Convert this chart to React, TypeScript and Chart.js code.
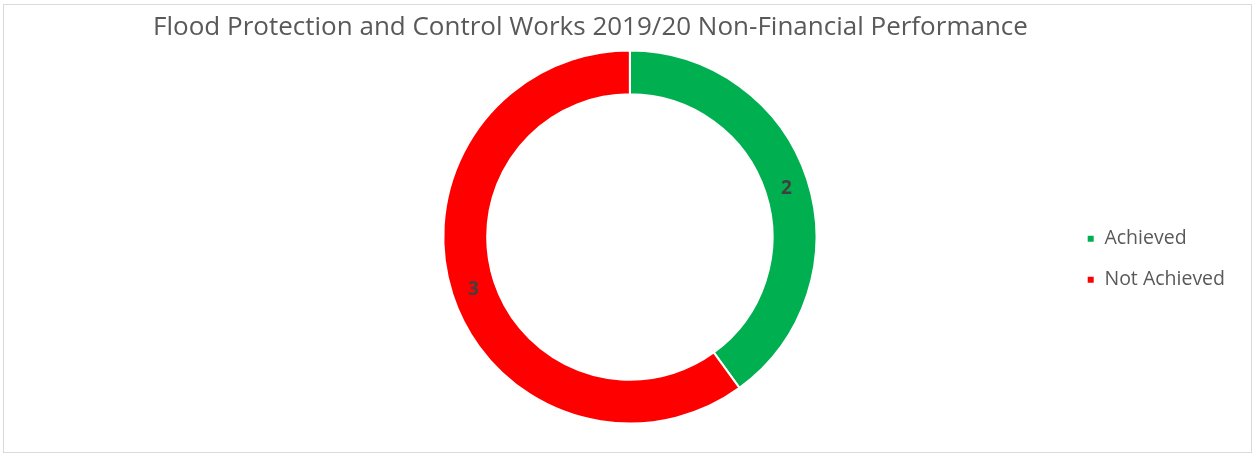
import React, { useEffect, useRef } from 'react';
import { Chart, registerables } from 'chart.js';

Chart.register(...registerables);

const TITLE = 'Flood Protection and Control Works 2019/20 Non-Financial Performance';
const categories = ['Achieved', 'Not Achieved'];
const counts = [2, 3];
const sliceColors = ['#00B050', '#FF0000'];

const FONT = '"Open Sans", "Noto Sans", sans-serif';

const sliceLabels = {
  id: 'sliceLabels',
  afterDatasetsDraw(chart: any) {
    const ctx = chart.ctx;
    const meta = chart.getDatasetMeta(0);
    const values = chart.data.datasets[0].data;
    ctx.save();
    ctx.font = `bold 19px ${FONT}`;
    ctx.fillStyle = '#404040';
    ctx.textAlign = 'center';
    ctx.textBaseline = 'middle';
    meta.data.forEach((arc: any, i: number) => {
      const p = arc.tooltipPosition();
      ctx.fillText(String(values[i]), p.x, p.y + 2);
    });
    ctx.restore();
  },
};

const titleShift = {
  id: 'titleShift',
  afterLayout(chart: any) {
    const t = chart.titleBlock;
    if (!t) return;
    const w = t.right - t.left;
    const cx = 590.5;
    t.left = cx - w / 2;
    t.right = cx + w / 2;
  },
};

export default function App() {
  const ref = useRef<HTMLCanvasElement | null>(null);

  useEffect(() => {
    if (!ref.current) return;
    const chart = new Chart(ref.current, {
      type: 'doughnut',
      data: {
        labels: categories,
        datasets: [
          {
            data: counts,
            backgroundColor: sliceColors,
            borderColor: '#ffffff',
            borderWidth: 2,
          },
        ],
      },
      options: {
        animation: false,
        responsive: false,
        cutout: '76.5%',
        layout: { padding: { left: 194.5, right: 18, top: 0, bottom: 28.5 } },
        plugins: {
          title: {
            display: true,
            text: TITLE,
            color: '#595959',
            font: { family: FONT, size: 26, weight: 'normal' },
            padding: { top: 12, bottom: 6.3 },
          },
          legend: {
            position: 'right',
            title: { display: true, text: '', padding: { top: 82, bottom: 0 }, font: { size: 10 } },
            labels: {
              boxWidth: 8,
              boxHeight: 8,
              padding: 21.5,
              color: '#595959',
              font: { family: FONT, size: 19.5 },
            },
          },
          tooltip: { enabled: false },
        },
      },
      plugins: [sliceLabels, titleShift],
    });
    return () => chart.destroy();
  }, []);

  return (
    <div style={{ position: 'absolute', left: 0, top: 0, width: 1253, height: 453, background: '#fff' }}>
      <canvas ref={ref} width={1253} height={453} style={{ position: 'absolute', left: 0, top: 0, width: 1253, height: 453 }} />
      <div
        style={{
          position: 'absolute',
          left: 3,
          top: 4,
          width: 1249,
          height: 449,
          boxSizing: 'border-box',
          border: '1px solid #d9d9d9',
          pointerEvents: 'none',
        }}
      />
    </div>
  );
}
